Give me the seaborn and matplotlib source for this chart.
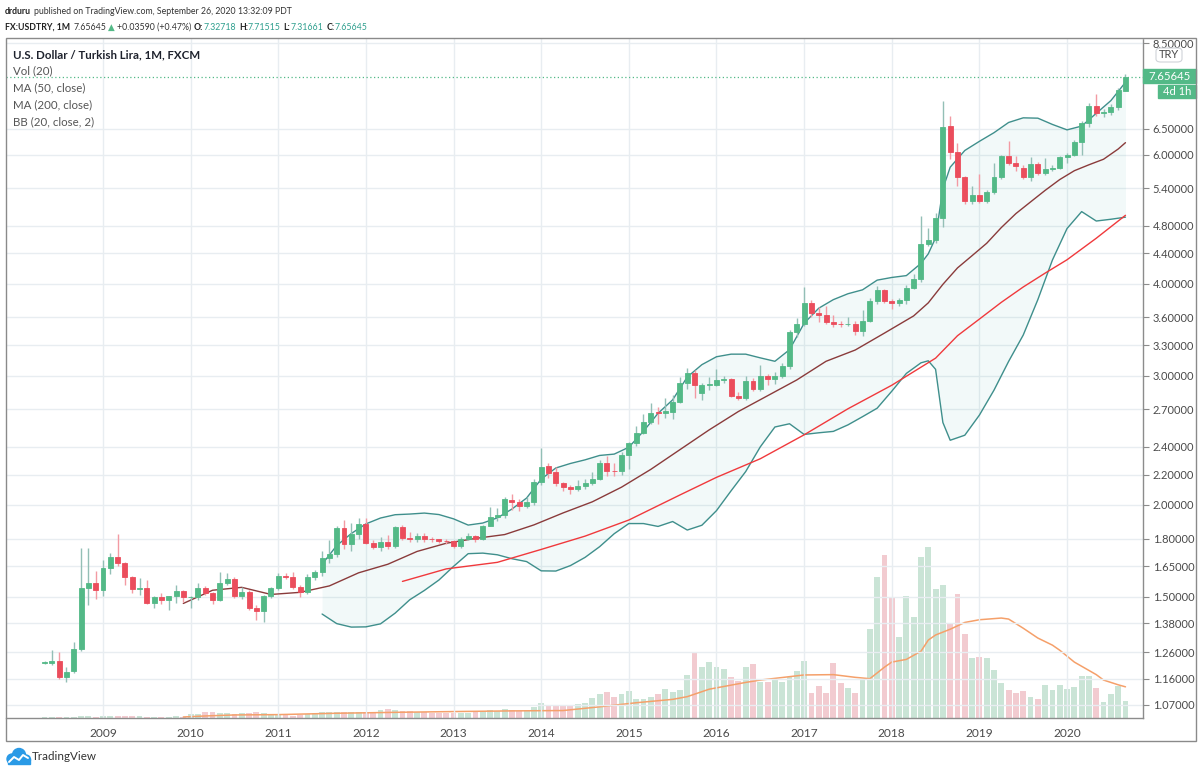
import numpy as np
import pandas as pd
import matplotlib
matplotlib.use('Agg')
import matplotlib.pyplot as plt
import matplotlib.transforms as mtransforms
import seaborn as sns
from matplotlib.patches import Rectangle, FancyBboxPatch, Circle
from matplotlib.ticker import NullLocator, FuncFormatter

# ---------------- data: USD/TRY monthly candles, May 2008 .. Sep 2020 ----------------
months = pd.period_range('2008-05', '2020-09', freq='M')

opens = [1.219, 1.220, 1.226, 1.167, 1.190, 1.272, 1.543, 1.564,
         1.532, 1.642, 1.701, 1.665, 1.595, 1.535, 1.543, 1.472, 1.498, 1.487, 1.503, 1.526,
         1.497, 1.499, 1.543, 1.519, 1.487, 1.567, 1.584, 1.503, 1.523, 1.446, 1.436, 1.503,
         1.540, 1.601, 1.597, 1.545, 1.523, 1.594, 1.622, 1.692, 1.715, 1.859, 1.770, 1.826,
         1.886, 1.777, 1.752, 1.779, 1.758, 1.868, 1.806, 1.796, 1.815, 1.798, 1.795, 1.789,
         1.786, 1.760, 1.800, 1.812, 1.796, 1.874, 1.928, 1.938, 2.030, 2.022, 1.996, 2.018,
         2.147, 2.259, 2.217, 2.141, 2.116, 2.101, 2.123, 2.143, 2.168, 2.279, 2.227, 2.224,
         2.339, 2.429, 2.505, 2.597, 2.674, 2.666, 2.680, 2.765, 2.929, 3.022, 2.840, 2.913,
         2.913, 2.955, 2.966, 2.815, 2.794, 2.953, 2.874, 2.999, 2.966, 3.000, 3.092, 3.443,
         3.524, 3.771, 3.654, 3.628, 3.553, 3.530, 3.525, 3.527, 3.454, 3.564, 3.791, 3.924,
         3.795, 3.764, 3.800, 3.952, 4.062, 4.528, 4.590, 4.913, 6.561, 6.053, 5.598, 5.190,
         5.290, 5.180, 5.330, 5.587, 5.973, 5.849, 5.760, 5.598, 5.825, 5.657, 5.729, 5.750,
         5.960, 5.997, 6.246, 6.617, 6.990, 6.830, 6.862, 6.960, 7.32718]
highs = [1.226, 1.270, 1.260, 1.203, 1.300, 1.746, 1.750, 1.628,
         1.684, 1.720, 1.827, 1.675, 1.601, 1.589, 1.580, 1.505, 1.519, 1.505, 1.555, 1.530,
         1.503, 1.568, 1.550, 1.525, 1.622, 1.618, 1.595, 1.545, 1.530, 1.460, 1.510, 1.548,
         1.618, 1.615, 1.620, 1.555, 1.610, 1.630, 1.730, 1.790, 1.873, 1.910, 1.890, 1.920,
         1.920, 1.790, 1.810, 1.820, 1.870, 1.880, 1.840, 1.830, 1.830, 1.810, 1.800, 1.800,
         1.790, 1.810, 1.830, 1.820, 1.880, 1.990, 1.980, 2.050, 2.070, 2.040, 2.050, 2.170,
         2.390, 2.280, 2.250, 2.150, 2.130, 2.160, 2.170, 2.220, 2.300, 2.330, 2.280, 2.360,
         2.440, 2.560, 2.660, 2.750, 2.720, 2.800, 2.820, 2.990, 3.070, 3.050, 2.930, 2.990,
         3.060, 3.000, 2.980, 2.850, 3.000, 2.980, 3.100, 3.020, 3.030, 3.120, 3.460, 3.590,
         3.957, 3.800, 3.720, 3.730, 3.630, 3.560, 3.600, 3.560, 3.680, 3.830, 3.970, 3.940,
         3.820, 3.830, 3.980, 4.120, 4.950, 4.760, 4.990, 7.100, 6.760, 6.230, 5.610, 5.440,
         5.640, 5.360, 5.850, 6.000, 6.250, 5.980, 5.800, 5.950, 5.860, 5.930, 5.800, 5.980,
         6.020, 6.280, 6.670, 7.050, 7.260, 6.930, 7.020, 7.400, 7.71515]
lows = [1.214, 1.210, 1.158, 1.150, 1.183, 1.265, 1.460, 1.490,
        1.505, 1.610, 1.650, 1.556, 1.519, 1.510, 1.465, 1.450, 1.468, 1.439, 1.472, 1.477,
        1.447, 1.487, 1.510, 1.468, 1.480, 1.555, 1.495, 1.490, 1.440, 1.393, 1.385, 1.495,
        1.530, 1.585, 1.535, 1.497, 1.515, 1.580, 1.600, 1.670, 1.700, 1.740, 1.730, 1.800,
        1.770, 1.740, 1.730, 1.740, 1.750, 1.790, 1.780, 1.780, 1.780, 1.780, 1.775, 1.770,
        1.750, 1.750, 1.790, 1.780, 1.790, 1.870, 1.900, 1.920, 1.970, 1.960, 1.980, 2.000,
        2.130, 2.180, 2.120, 2.090, 2.070, 2.090, 2.100, 2.130, 2.160, 2.190, 2.190, 2.200,
        2.240, 2.410, 2.500, 2.580, 2.580, 2.630, 2.620, 2.750, 2.880, 2.800, 2.780, 2.870,
        2.900, 2.930, 2.810, 2.780, 2.780, 2.860, 2.860, 2.910, 2.920, 2.980, 3.060, 3.390,
        3.500, 3.600, 3.550, 3.530, 3.490, 3.490, 3.500, 3.410, 3.400, 3.550, 3.760, 3.770,
        3.700, 3.730, 3.750, 3.930, 4.020, 4.510, 4.550, 4.780, 5.920, 5.440, 5.140, 5.140,
        5.160, 5.150, 5.300, 5.550, 5.800, 5.700, 5.550, 5.520, 5.630, 5.630, 5.690, 5.730,
        5.850, 5.970, 6.000, 6.550, 6.780, 6.740, 6.800, 6.900, 7.31661]
closes = [1.221, 1.226, 1.167, 1.186, 1.272, 1.543, 1.564, 1.530,
          1.642, 1.701, 1.665, 1.597, 1.535, 1.543, 1.472, 1.497, 1.487, 1.503, 1.526, 1.498,
          1.499, 1.543, 1.519, 1.487, 1.567, 1.584, 1.503, 1.523, 1.446, 1.436, 1.503, 1.540,
          1.601, 1.595, 1.545, 1.523, 1.594, 1.622, 1.692, 1.715, 1.859, 1.770, 1.826, 1.886,
          1.777, 1.752, 1.779, 1.758, 1.868, 1.806, 1.796, 1.815, 1.798, 1.795, 1.789, 1.787,
          1.760, 1.800, 1.812, 1.796, 1.874, 1.928, 1.938, 2.036, 2.022, 1.996, 2.018, 2.147,
          2.255, 2.213, 2.145, 2.116, 2.101, 2.123, 2.143, 2.168, 2.279, 2.227, 2.224, 2.339,
          2.429, 2.509, 2.597, 2.671, 2.668, 2.685, 2.765, 2.929, 3.022, 2.913, 2.913, 2.920,
          2.955, 2.966, 2.815, 2.794, 2.953, 2.874, 2.999, 2.966, 3.000, 3.092, 3.443, 3.524,
          3.771, 3.654, 3.628, 3.553, 3.530, 3.525, 3.527, 3.454, 3.564, 3.791, 3.924, 3.795,
          3.764, 3.800, 3.952, 4.062, 4.528, 4.590, 4.913, 6.547, 6.053, 5.598, 5.190, 5.290,
          5.180, 5.330, 5.587, 5.973, 5.849, 5.788, 5.598, 5.825, 5.657, 5.729, 5.750, 5.960,
          5.997, 6.246, 6.617, 6.990, 6.830, 6.862, 6.960, 7.345, 7.65645]
volumes = [3, 3, 3, 4, 4, 5, 5, 4,
           6, 6, 6, 5, 5, 5, 4, 4, 4, 4, 5, 4,
           11, 12, 19, 19, 15, 14, 13, 14, 15, 17, 15, 11,
           9, 9, 7, 9, 11, 14, 17, 19, 19, 17, 17, 19,
           19, 19, 25, 27, 24, 22, 20, 18, 18, 16, 16, 15,
           15, 15, 16, 17, 20, 24, 22, 26, 24, 21, 24, 32,
           44, 38, 36, 38, 35, 42, 45, 60, 70, 78, 62, 70,
           81, 57, 57, 63, 72, 85, 77, 82, 126, 196, 152, 165,
           152, 145, 122, 109, 150, 160, 107, 105, 113, 105, 121, 138,
           168, 73, 95, 75, 163, 103, 88, 75, 115, 263, 417, 482,
           353, 240, 360, 297, 475, 505, 382, 393, 280, 365, 247, 177,
           180, 178, 143, 102, 84, 73, 81, 62, 55, 97, 82, 97,
           87, 92, 123, 123, 88, 48, 72, 95, 51]

# indicator lines (position = month number from May 2008)
basis_pos = [19, 23, 27, 31, 35, 39, 43, 47, 51, 55, 59, 63, 67, 71, 75, 79, 83, 87, 91, 95,
             99, 103, 107, 111, 115, 119, 121, 123, 125, 127, 129, 131, 133, 135, 137, 139,
             141, 143, 145, 147, 148]
basis_val = [1.469, 1.531, 1.545, 1.511, 1.521, 1.552, 1.617, 1.661, 1.729, 1.774, 1.801,
             1.823, 1.879, 1.951, 2.020, 2.115, 2.236, 2.379, 2.531, 2.681, 2.817, 2.960,
             3.138, 3.251, 3.428, 3.618, 3.769, 3.994, 4.205, 4.370, 4.543, 4.772, 4.986,
             5.171, 5.362, 5.547, 5.703, 5.810, 5.912, 6.104, 6.227]
bb_pos = [38, 40, 42, 44, 46, 48, 50, 52, 54, 56, 58, 60, 62, 64, 66, 68, 70, 72, 74, 76,
          78, 80, 82, 84, 86, 88, 90, 92, 94, 96, 98, 100, 102, 104, 106, 108, 110, 112, 114,
          116, 118, 120, 121, 122, 123, 124, 126, 128, 130, 132, 134, 136, 138, 140, 142,
          144, 146, 148]
bb_upper = [1.661, 1.761, 1.829, 1.885, 1.920, 1.940, 1.944, 1.950, 1.941, 1.915, 1.878,
            1.890, 1.921, 1.975, 2.044, 2.169, 2.246, 2.278, 2.304, 2.336, 2.346, 2.397,
            2.520, 2.666, 2.781, 2.987, 3.105, 3.183, 3.209, 3.209, 3.172, 3.138, 3.254,
            3.535, 3.706, 3.807, 3.878, 3.926, 4.047, 4.081, 4.105, 4.265, 4.395, 4.620,
            5.390, 5.766, 6.076, 6.253, 6.425, 6.634, 6.731, 6.724, 6.593, 6.482, 6.559,
            6.827, 7.104, 7.525]
bb_lower = [1.421, 1.379, 1.364, 1.365, 1.378, 1.425, 1.486, 1.530, 1.581, 1.650, 1.717,
            1.720, 1.711, 1.690, 1.675, 1.627, 1.626, 1.654, 1.697, 1.755, 1.828, 1.887,
            1.887, 1.870, 1.899, 1.849, 1.877, 1.965, 2.091, 2.221, 2.400, 2.554, 2.580,
            2.495, 2.508, 2.519, 2.571, 2.638, 2.709, 2.857, 3.021, 3.123, 3.143, 3.060,
            2.590, 2.450, 2.489, 2.651, 2.867, 3.137, 3.407, 3.807, 4.311, 4.758, 5.017,
            4.871, 4.898, 4.930]
ma50_pos = [49, 55, 62, 68, 74, 80, 87, 92, 98, 104, 110, 116, 122, 125, 128, 131, 134,
            137, 140, 144, 148]
ma50_val = [1.574, 1.637, 1.671, 1.740, 1.814, 1.908, 2.064, 2.181, 2.312, 2.492, 2.704,
            2.911, 3.169, 3.400, 3.582, 3.775, 3.961, 4.137, 4.314, 4.615, 4.959]
vma_pos = [19, 22, 26, 32, 40, 49, 56, 64, 71, 76, 81, 86, 88, 91, 96, 98, 104, 108, 111,
           113, 115, 116, 118, 120, 121, 122, 124, 126, 128, 131, 132, 134, 136, 138, 139,
           141, 144, 145, 147, 148]
vma_val = [3, 6, 9, 10, 14, 17, 19, 21, 22, 33, 45, 55, 63, 85, 105, 112, 127, 128, 120,
           116, 150, 165, 173, 197, 230, 245, 262, 282, 290, 295, 292, 265, 236, 215, 200,
           165, 128, 112, 98, 92]

price_ticks = [1.07, 1.16, 1.26, 1.38, 1.50, 1.65, 1.80, 2.00, 2.20, 2.40, 2.70, 3.00,
               3.30, 3.60, 4.00, 4.40, 4.80, 5.40, 6.00, 6.50, 8.50]
year_labels = [str(y) for y in range(2009, 2021)]

# ---------------- style ----------------
sns.set_theme(style='white')
plt.rcParams['font.family'] = ['Lato', 'DejaVu Sans']
UP, DOWN = '#53b987', '#eb4d5c'
TEAL_TXT = '#2e9f8e'

W, H = 1200, 774
fig = plt.figure(figsize=(W / 100, H / 100), dpi=100)


def rect(x0, y0, x1, y1):
    return [x0 / W, 1 - y1 / H, (x1 - x0) / W, (y1 - y0) / H]


def px_rect(x0, y0, x1, y1, **kw):
    fig.add_artist(Rectangle((x0 / W, 1 - y1 / H), (x1 - x0) / W, (y1 - y0) / H,
                             transform=fig.transFigure, **kw))


def px_text(x, y, s, **kw):
    kw.setdefault('va', 'center')
    return fig.text(x / W, 1 - y / H, s, **kw)


x = np.arange(len(months))
o, hi, lo, c = map(np.array, (opens, highs, lows, closes))
up = c >= o
year_pos = [i for i, m in enumerate(months) if m.month == 1]
XLIM = (-5.28, 150.4)

# ---------------- volume pane (behind) ----------------
axv = fig.add_axes(rect(6, 38, 1143, 718))
vol_df = pd.DataFrame({'pos': x, 'vol': volumes,
                       'dir': np.where(up, 'up', 'down')})
sns.barplot(data=vol_df, x='pos', y='vol', hue='dir', native_scale=True, dodge=False,
            palette={'up': '#c6e8d6', 'down': '#f8c5cb'}, width=0.8, errorbar=None,
            legend=False, ax=axv, zorder=1)
for p in axv.patches:
    p.set_edgecolor('none')
sns.lineplot(x=vma_pos, y=vma_val, ax=axv, color='#f5a06a', lw=1.1, zorder=2)
axv.set_xlim(*XLIM)
axv.set_ylim(0, 2007)
axv.set_axis_off()

# ---------------- price pane ----------------
ax = fig.add_axes(rect(6, 38, 1143, 718))
ax.patch.set_alpha(0)
ax.set_yscale('log')
ax.set_xlim(*XLIM)
ax.set_ylim(1.0258, 8.645)

ax.fill_between(bb_pos, bb_lower, bb_upper, color='#26a69a', alpha=0.06, lw=0, zorder=1)
sns.lineplot(x=bb_pos, y=bb_upper, ax=ax, color='#3f8f8c', lw=1.0, zorder=2)
sns.lineplot(x=bb_pos, y=bb_lower, ax=ax, color='#3f8f8c', lw=1.0, zorder=2)
sns.lineplot(x=basis_pos, y=basis_val, ax=ax, color='#8a3b3b', lw=1.0, zorder=2)
sns.lineplot(x=ma50_pos, y=ma50_val, ax=ax, color='#f0393c', lw=1.0, zorder=2)

# candles
wick_cols = np.where(up, '#93bfb6', '#f39aa3')
body_cols = np.where(up, UP, DOWN)
ax.vlines(x, lo, hi, colors=wick_cols, lw=1.0, zorder=3)
ax.bar(x, np.abs(c - o), bottom=np.minimum(o, c), width=0.68, color=body_cols,
       edgecolor=body_cols, lw=0.6, zorder=4)

# last price line
ax.axhline(closes[-1], color=UP, lw=0.9, ls=(0, (1, 2)), zorder=2)

# axes, ticks, grid
ax.set_xlabel('')
ax.set_ylabel('')
ax.yaxis.tick_right()
ax.set_yticks(price_ticks)
ax.yaxis.set_minor_locator(NullLocator())
ax.yaxis.set_major_formatter(FuncFormatter(lambda v, _: f'{v:.5f}'))
ax.set_xticks(year_pos)
ax.set_xticklabels(year_labels)
ax.grid(True, color='#e8edf1', lw=1.0)
ax.set_axisbelow(True)
for s in ('top', 'left'):
    ax.spines[s].set_visible(False)
for s in ('right', 'bottom'):
    ax.spines[s].set_color('#8c8c8c')
    ax.spines[s].set_linewidth(1.0)
ax.tick_params(axis='y', which='major', direction='out', length=4, width=0.8,
               color='#8c8c8c', labelsize=8.0, labelcolor='#4a4a4a', pad=3)
ax.tick_params(axis='x', direction='out', length=4, width=0.8, color='#8c8c8c',
               labelsize=8.6, labelcolor='#4a4a4a', pad=3)

# mask above the pane, outer frame
px_rect(1100, 0, 1200, 38, color='white', zorder=1)
fig.add_artist(Rectangle((6 / W, 1 - 741 / H), 1190 / W, 703 / H, transform=fig.transFigure,
                         fill=False, ec='#8a8a8a', lw=1.0, zorder=3))

# price scale badges
fig.add_artist(FancyBboxPatch((1156 / W, 1 - 62 / H), 26 / W, 14 / H,
                              boxstyle='round,pad=0,rounding_size=0.004',
                              transform=fig.transFigure, fc='white', ec='#cfd3d8',
                              lw=0.8, zorder=2))
px_text(1169, 55, 'TRY', ha='center', fontsize=8, color='#4a4a4a', zorder=3)
px_rect(1143, 69, 1196, 83, color=UP, zorder=2)
px_text(1169.5, 76, '7.65645', ha='center', fontsize=8.2, color='white', zorder=3)
px_rect(1158, 85, 1196, 98, color=UP, zorder=2)
px_text(1177, 91.5, '4d 1h', ha='center', fontsize=8, color='white', zorder=3)

# legend lines inside the pane
px_text(13, 55, 'U.S. Dollar / Turkish Lira, 1M, FXCM', fontsize=8.3, fontweight='bold',
        color='#1e222d')
for yy, s in zip([71, 88, 105, 122],
                 ['Vol (20)', 'MA (50, close)', 'MA (200, close)', 'BB (20, close, 2)']):
    px_text(13, yy, s, fontsize=8.3, color='#555555')

# header
renderer = fig.canvas.get_renderer()


def seq_text(xpos, ypos, parts, size):
    for s, col, wt, gap in parts:
        t = px_text(xpos, ypos, s, fontsize=size, color=col, fontweight=wt)
        xpos = t.get_window_extent(renderer=renderer).x1 + gap


seq_text(5, 11, [('drduru', '#222222', 'bold', 3),
                 ('published on TradingView.com, September 26, 2020 13:32:09 PDT',
                  '#333333', 'normal', 0)], 6.3)
seq_text(5, 27, [('FX:USDTRY, 1M', '#222222', 'bold', 3),
                 ('7.65645', '#333333', 'normal', 2),
                 ('\u25b2', UP, 'normal', 2),
                 ('+0.03590 (+0.47%)', '#333333', 'normal', 3),
                 ('O:', '#222222', 'bold', 0), ('7.32718', TEAL_TXT, 'normal', 3),
                 ('H:', '#222222', 'bold', 0), ('7.71515', TEAL_TXT, 'normal', 3),
                 ('L:', '#222222', 'bold', 0), ('7.31661', TEAL_TXT, 'normal', 3),
                 ('C:', '#222222', 'bold', 0), ('7.65645', TEAL_TXT, 'normal', 0)], 6.3)

# TradingView logo
ident = mtransforms.IdentityTransform()
for cx, cy, r in [(12, 759, 5), (19, 755, 6.5), (26, 759.5, 4.5)]:
    fig.add_artist(Circle((cx, H - cy), r, transform=ident, color='#2a9ae6', zorder=2))
fig.add_artist(Rectangle((8, H - 764), 22, 5, transform=ident, color='#2a9ae6', zorder=2))
fig.add_artist(plt.Line2D([9, 14, 19, 23, 28], [H - 762, H - 757, H - 760, H - 755, H - 758],
                          transform=ident, color='white', lw=1.4, zorder=3))
px_text(32, 757, 'TradingView', fontsize=8.4, color='#333333')

fig.savefig('out.png', dpi=100)
